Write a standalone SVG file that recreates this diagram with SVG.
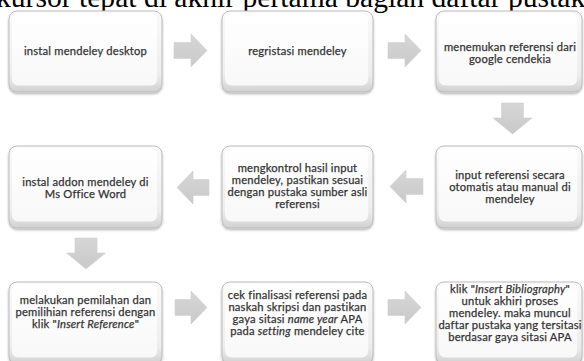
<svg xmlns="http://www.w3.org/2000/svg" width="584" height="361" viewBox="0 0 584 361">
<defs>
<linearGradient id="outerG" x1="0" y1="0" x2="0" y2="1">
<stop offset="0" stop-color="#fafafa"/>
<stop offset="0.8" stop-color="#ededed"/>
<stop offset="1" stop-color="#d0d0d0"/>
</linearGradient>
<linearGradient id="innerG" x1="0" y1="0" x2="0" y2="1">
<stop offset="0" stop-color="#ffffff"/>
<stop offset="1" stop-color="#f8f8f8"/>
</linearGradient>
<linearGradient id="arrG" x1="0" y1="0" x2="0" y2="1">
<stop offset="0" stop-color="#d6d6d6"/>
<stop offset="1" stop-color="#c9c9c9"/>
</linearGradient>
<filter id="sh" x="-10%" y="-10%" width="120%" height="130%">
<feDropShadow dx="0" dy="1.5" stdDeviation="1.3" flood-color="#000" flood-opacity="0.3"/>
</filter>
</defs>
<style>
.outer{fill:url(#outerG);stroke:#bdbdbd;stroke-width:1;filter:url(#sh)}
.inner{fill:url(#innerG);stroke:none}
.t{font-family:Lato,"Liberation Sans",sans-serif;font-size:11.2px;letter-spacing:0.2px;fill:#333;stroke:#333;stroke-width:0.25;text-anchor:middle}
.arr{fill:url(#arrG);stroke:#d2d2d2;stroke-width:0.6}
.doc{font-family:"Liberation Serif","Times New Roman",serif;font-size:29.6px;fill:#000}
</style>

<text class="doc" x="-4" y="6.5">kursor tepat di akhir pertama bagian daftar pustaka</text>

<g id="connectors">
<polygon class="arr" points="174,42.5 191,42.5 191,34 207,50.5 191,67 191,58.5 174,58.5"/>
<polygon class="arr" points="388,42.5 405,42.5 405,34 421,50.5 405,67 405,58.5 388,58.5"/>
<polygon class="arr" points="501.5,103 523.5,103 523.5,118 532,118 512.5,134 493,118 501.5,118"/>
<polygon class="arr" points="423,178.5 406,178.5 406,170 390,186.5 406,203 406,194.5 423,194.5"/>
<polygon class="arr" points="209,179.5 193,179.5 193,171 177,187.5 193,204 193,195.5 209,195.5"/>
<polygon class="arr" points="75,238 97,238 97,253 105.5,253 86,269 66.5,253 75,253"/>
<polygon class="arr" points="175,299.5 191,299.5 191,291 207,307.5 191,324 191,315.5 175,315.5"/>
<polygon class="arr" points="388,299.5 405,299.5 405,291 421,307.5 405,324 405,315.5 388,315.5"/>
</g>

<g id="n1">
<rect class="outer" x="9" y="11" width="153" height="81" rx="8"/>
<rect class="inner" x="12" y="13.5" width="145" height="72" rx="6"/>
<text class="t" x="85.5" y="55">instal mendeley desktop</text>
</g>
<g id="n2">
<rect class="outer" x="222" y="11" width="151" height="81" rx="8"/>
<rect class="inner" x="225" y="13.5" width="143" height="72" rx="6"/>
<text class="t" x="297.5" y="55">regristasi mendeley</text>
</g>
<g id="n3">
<rect class="outer" x="436" y="11" width="146" height="81" rx="8"/>
<rect class="inner" x="439" y="13.5" width="138" height="72" rx="6"/>
<text class="t" y="50.5"><tspan x="510">menemukan referensi dari</tspan><tspan x="510" dy="12">google cendekia</tspan></text>
</g>
<g id="n4">
<rect class="outer" x="436" y="146" width="146" height="82" rx="8"/>
<rect class="inner" x="439" y="148.5" width="138" height="73" rx="6"/>
<text class="t" y="179"><tspan x="510">input referensi secara</tspan><tspan x="510" dy="12">otomatis atau manual di</tspan><tspan x="510" dy="12">mendeley</tspan></text>
</g>
<g id="n5">
<rect class="outer" x="222" y="146" width="151" height="82" rx="8"/>
<rect class="inner" x="225" y="148.5" width="143" height="73" rx="6"/>
<text class="t" y="172"><tspan x="297.5">mengkontrol hasil input</tspan><tspan x="297.5" dy="12">mendeley, pastikan sesuai</tspan><tspan x="297.5" dy="12">dengan pustaka sumber asli</tspan><tspan x="297.5" dy="12">referensi</tspan></text>
</g>
<g id="n6">
<rect class="outer" x="9" y="146" width="153" height="82" rx="8"/>
<rect class="inner" x="12" y="148.5" width="145" height="73" rx="6"/>
<text class="t" y="186"><tspan x="85.5">instal addon mendeley di</tspan><tspan x="85.5" dy="12">Ms Office Word</tspan></text>
</g>
<g id="n7">
<rect class="outer" x="9" y="282" width="153" height="82" rx="8"/>
<rect class="inner" x="12" y="284.5" width="145" height="73" rx="6"/>
<text class="t" y="304"><tspan x="85.5">melakukan pemilahan dan</tspan><tspan x="85.5" dy="12">pemilihian referensi dengan</tspan><tspan x="85.5" dy="12">klik "<tspan font-style="italic">Insert Reference</tspan>"</tspan></text>
</g>
<g id="n8">
<rect class="outer" x="222" y="282" width="151" height="82" rx="8"/>
<rect class="inner" x="225" y="284.5" width="143" height="73" rx="6"/>
<text class="t" y="299"><tspan x="297.5">cek finalisasi referensi pada</tspan><tspan x="297.5" dy="12">naskah skripsi dan pastikan</tspan><tspan x="297.5" dy="12">gaya sitasi <tspan font-style="italic">name year</tspan> APA</tspan><tspan x="297.5" dy="12">pada <tspan font-style="italic">setting</tspan> mendeley cite</tspan></text>
</g>
<g id="n9">
<rect class="outer" x="436" y="282" width="146" height="82" rx="8"/>
<rect class="inner" x="439" y="284.5" width="138" height="73" rx="6"/>
<text class="t" y="293"><tspan x="510">klik "<tspan font-style="italic">Insert Bibliography</tspan>"</tspan><tspan x="510" dy="11.9">untuk akhiri proses</tspan><tspan x="510" dy="11.9">mendeley. maka muncul</tspan><tspan x="510" dy="11.9">daftar pustaka yang tersitasi</tspan><tspan x="510" dy="11.9">berdasar gaya sitasi APA</tspan></text>
</g>
</svg>
